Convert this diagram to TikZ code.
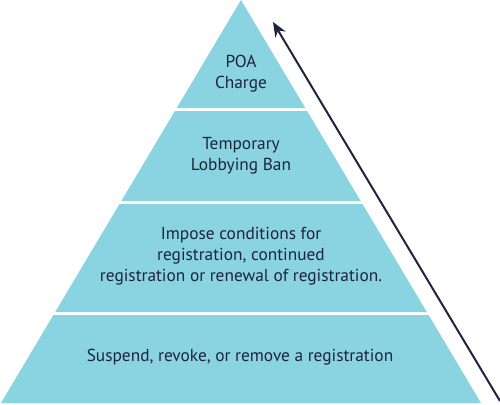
\documentclass[tikz,border=0pt]{standalone}
\usepackage{fontspec}
\setmainfont{PT Sans}
\usetikzlibrary{arrows.meta}
\definecolor{tierfill}{RGB}{138,211,224}
\definecolor{inkblue}{RGB}{30,36,62}
\tikzset{
  tier/.style={fill=tierfill, draw=none},
  label/.style={text=inkblue, align=center, font=\fontsize{13}{15.75}\selectfont},
}
\begin{document}
\begin{tikzpicture}[x=0.75pt, y=-0.75pt]
  \useasboundingbox (0,0) rectangle (500,404);
  % tiers of the pyramid, top to bottom
  \fill[tier] (241,0) -- (305.3,108) -- (176.7,108) -- cycle;
  \fill[tier] (174.9,111) -- (307.1,111) -- (360.7,201) -- (121.3,201) -- cycle;
  \fill[tier] (119.5,204) -- (362.5,204) -- (426.8,312) -- (55.2,312) -- cycle;
  \fill[tier] (53.4,315) -- (428.6,315) -- (481,403) -- (1,403) -- cycle;
  \node[label] (poa) at (241,74) {POA\\Charge};
  \node[label] (ban) at (241,156) {Temporary\\Lobbying Ban};
  \node[label] (cond) at (241,256) {Impose conditions for\\registration, continued\\registration or renewal of registration.};
  \node[label] (susp) at (240,357) {Suspend, revoke, or remove a registration};
  % escalation arrow
  \coordinate (low) at (500,401);
  \coordinate (high) at (273,22);
  \draw[inkblue, line width=1.5pt, -{Stealth[length=11pt, width=9pt]}] (low) -- (high);
\end{tikzpicture}
\end{document}
